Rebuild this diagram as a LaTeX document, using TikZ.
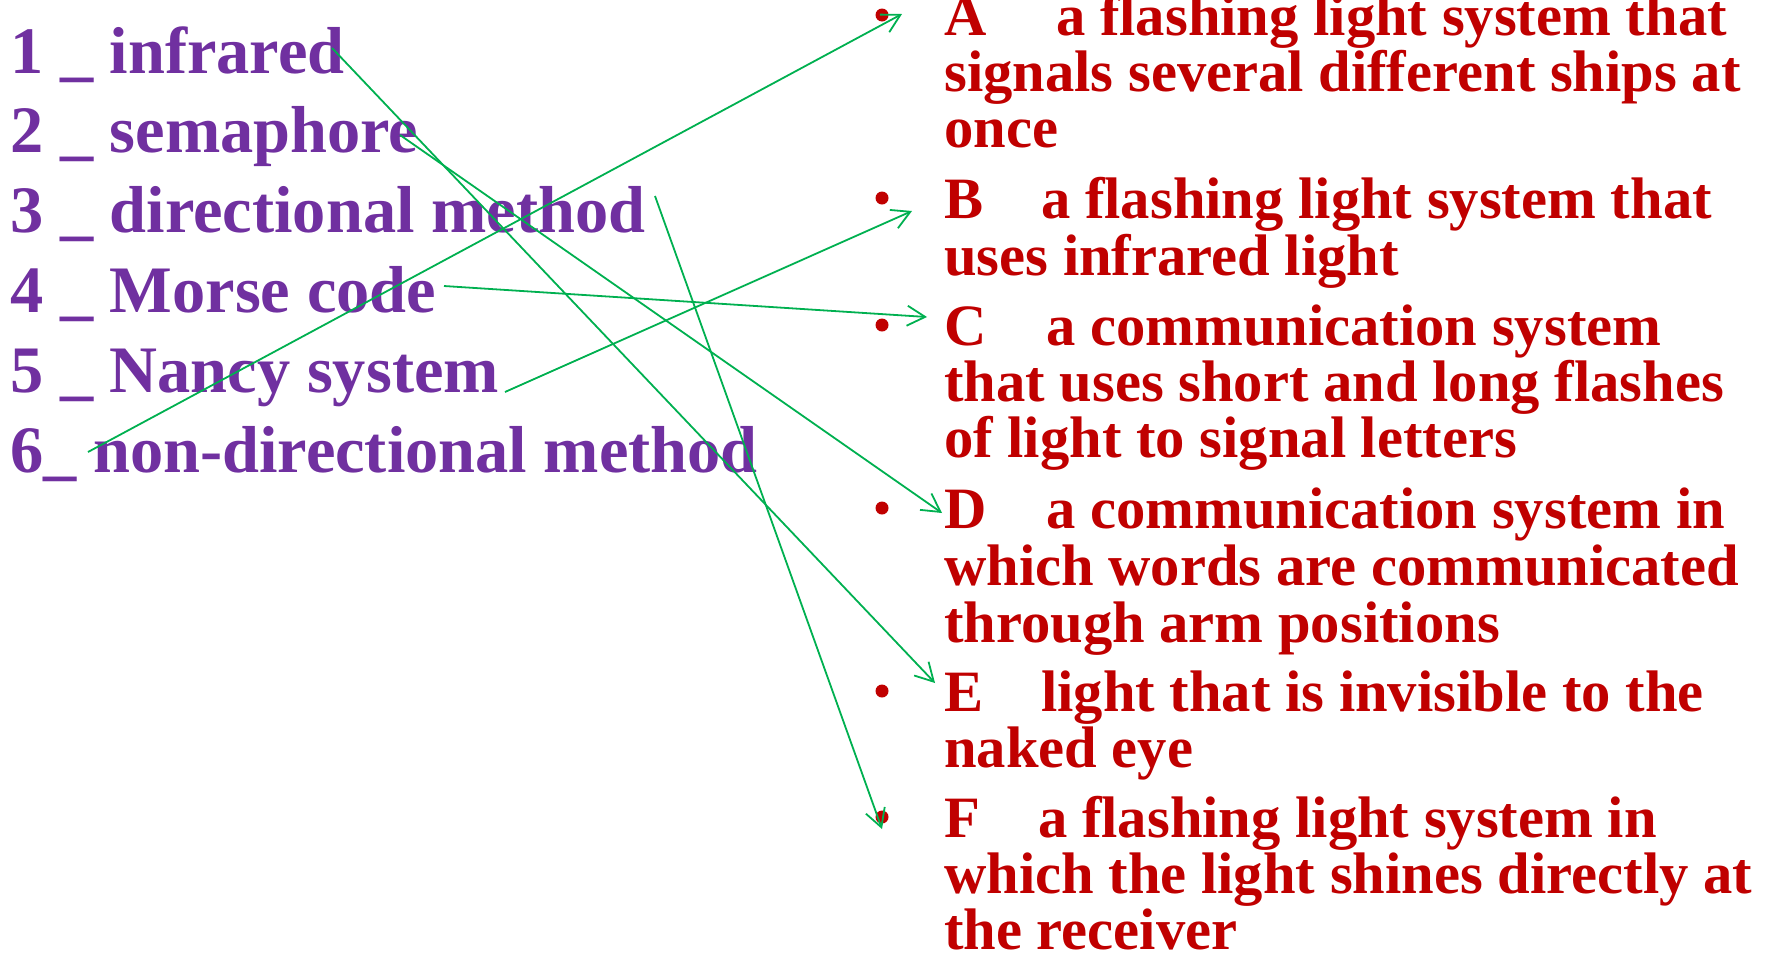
\documentclass[tikz,border=0pt]{standalone}
\usepackage{fontspec}
\setmainfont{Liberation Serif}
\usetikzlibrary{arrows.meta}
\definecolor{lpurple}{HTML}{7030A0}
\definecolor{ired}{HTML}{C00000}
\definecolor{lgreen}{HTML}{00B050}
\begin{document}
\begin{tikzpicture}[x=1pt,y=-1pt,
  leftlbl/.style={anchor=base west, inner sep=0pt, text=lpurple, font=\fontsize{66.4}{67}\selectfont\bfseries},
  rightlbl/.style={anchor=base west, inner sep=0pt, text=ired, font=\fontsize{58.6}{57}\selectfont\bfseries},
  bulletdot/.style={circle, fill=ired, inner sep=0pt, minimum size=13pt},
  link/.style={draw=lgreen, line width=1.8pt, -{Straight Barb[length=18pt,width=20pt]}}]
\useasboundingbox (0,0) rectangle (1771,954);

% left column
\node[leftlbl] (l1) at (10,73) {1 \_ infrared};
\node[leftlbl] (l2) at (10,152) {2 \_ semaphore};
\node[leftlbl] (l3) at (10,232) {3 \_ directional method};
\node[leftlbl] (l4) at (10,312) {4 \_ Morse code};
\node[leftlbl] (l5) at (10,392) {5 \_ Nancy system};
\node[leftlbl] (l6) at (10,472) {6\_ non-directional method};

% right column bullets
\node[bulletdot] (bA) at (882,15) {};
\node[bulletdot] (bB) at (882,198) {};
\node[bulletdot] (bC) at (882,325) {};
\node[bulletdot] (bD) at (882,508) {};
\node[bulletdot] (bE) at (882,691) {};
\node[bulletdot] (bF) at (882,817) {};

% right column texts
\node[rightlbl] (a1) at (944,35) {\makebox[112pt][l]{A}a flashing light system that};
\node[rightlbl] (a2) at (944,91) {signals several different ships at};
\node[rightlbl] (a3) at (944,147) {once};
\node[rightlbl] (b1) at (944,218) {\makebox[97pt][l]{B}a flashing light system that};
\node[rightlbl] (b2) at (944,275) {uses infrared light};
\node[rightlbl] (c1) at (944,345) {\makebox[102pt][l]{C}a communication system};
\node[rightlbl] (c2) at (944,401) {that uses short and long flashes};
\node[rightlbl] (c3) at (944,457) {of light to signal letters};
\node[rightlbl] (d1) at (944,528) {\makebox[102pt][l]{D}a communication system in};
\node[rightlbl] (d2) at (944,585) {which words are communicated};
\node[rightlbl] (d3) at (944,642) {through arm positions};
\node[rightlbl] (e1) at (944,711) {\makebox[97pt][l]{E}light that is invisible to the};
\node[rightlbl] (e2) at (944,767) {naked eye};
\node[rightlbl] (f1) at (944,837) {\makebox[94pt][l]{F}a flashing light system in};
\node[rightlbl] (f2) at (944,893) {which the light shines directly at};
\node[rightlbl] (f3) at (944,949) {the receiver};

% connector end points
\coordinate (s1) at (332,48);
\coordinate (s2) at (400,135);
\coordinate (s3) at (655,196);
\coordinate (s4) at (444,286);
\coordinate (s5) at (505,392);
\coordinate (s6) at (88,452);
\coordinate (tA) at (902,14);
\coordinate (tB) at (912,211);
\coordinate (tC) at (927,317);
\coordinate (tD) at (942,513);
\coordinate (tE) at (935,683);
\coordinate (tF) at (882,829);

\draw[link] (s1) -- (tE);
\draw[link] (s2) -- (tD);
\draw[link] (s3) -- (tF);
\draw[link] (s4) -- (tC);
\draw[link] (s5) -- (tB);
\draw[link] (s6) -- (tA);
\end{tikzpicture}
\end{document}
